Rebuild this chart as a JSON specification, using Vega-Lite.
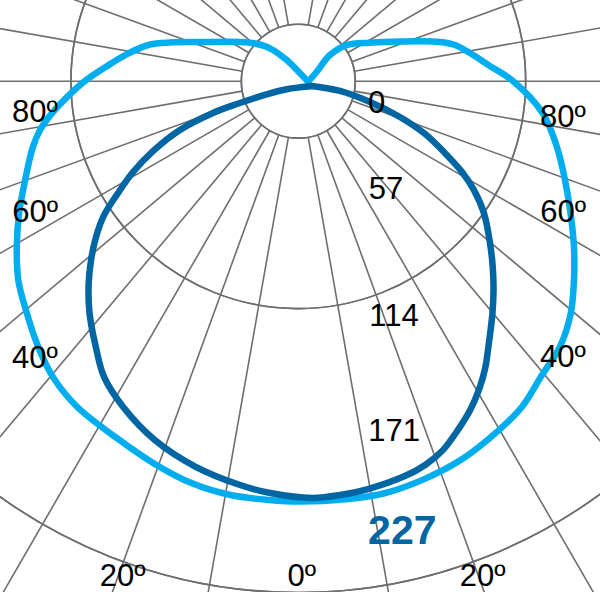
{
  "$schema": "https://vega.github.io/schema/vega-lite/v6.json",
  "width": 600,
  "height": 592,
  "padding": 0,
  "autosize": {"type": "none"},
  "background": "white",
  "datasets": {
    "rings": [
      {"value": 0}, {"value": 57}, {"value": 114}, {"value": 171}, {"value": 228}
    ],
    "spokes": [
      {"a": 10}, {"a": 20}, {"a": 30}, {"a": 40}, {"a": 50}, {"a": 60}, {"a": 70}, {"a": 80}, {"a": 90},
      {"a": 100}, {"a": 110}, {"a": 120}, {"a": 130}, {"a": 140}, {"a": 150}, {"a": 160}, {"a": 170},
      {"a": -10}, {"a": -20}, {"a": -30}, {"a": -40}, {"a": -50}, {"a": -60}, {"a": -70}, {"a": -80}, {"a": -90},
      {"a": -100}, {"a": -110}, {"a": -120}, {"a": -130}, {"a": -140}, {"a": -150}, {"a": -160}, {"a": -170}
    ],
    "light": [
      {"i": 1, "a": 87.1, "r": 5.0}, {"i": 2, "a": 167.9, "r": 4.1}, {"i": 3, "a": -151.3, "r": 12.1},
      {"i": 4, "a": -139.3, "r": 21.8}, {"i": 5, "a": -131.1, "r": 28.8}, {"i": 6, "a": -123.9, "r": 35.3},
      {"i": 7, "a": -111.7, "r": 53.1}, {"i": 8, "a": -106.8, "r": 67.3}, {"i": 9, "a": -103.9, "r": 76.7},
      {"i": 10, "a": -99.0, "r": 87.1}, {"i": 11, "a": -94.5, "r": 96.4}, {"i": 12, "a": -90.3, "r": 106.6},
      {"i": 13, "a": -86.3, "r": 115.9}, {"i": 14, "a": -82.6, "r": 124.7}, {"i": 15, "a": -79.3, "r": 132.0},
      {"i": 16, "a": -76.1, "r": 137.3}, {"i": 17, "a": -70.1, "r": 145.9}, {"i": 18, "a": -64.7, "r": 155.1},
      {"i": 19, "a": -59.5, "r": 164.1}, {"i": 20, "a": -54.6, "r": 172.5}, {"i": 21, "a": -49.5, "r": 179.3},
      {"i": 22, "a": -44.4, "r": 186.7}, {"i": 23, "a": -39.7, "r": 193.0}, {"i": 24, "a": -34.2, "r": 197.7},
      {"i": 25, "a": -27.3, "r": 200.9}, {"i": 26, "a": -20.7, "r": 205.2}, {"i": 27, "a": -14.8, "r": 208.9},
      {"i": 28, "a": -9.3, "r": 210.6}, {"i": 29, "a": -4.0, "r": 210.8}, {"i": 30, "a": 0.2, "r": 211.1},
      {"i": 31, "a": 6.4, "r": 211.3}, {"i": 32, "a": 11.8, "r": 211.4}, {"i": 33, "a": 17.3, "r": 209.7},
      {"i": 34, "a": 23.2, "r": 207.0}, {"i": 35, "a": 29.9, "r": 202.1}, {"i": 36, "a": 34.5, "r": 198.4},
      {"i": 37, "a": 39.5, "r": 191.9}, {"i": 38, "a": 44.6, "r": 187.2}, {"i": 39, "a": 49.6, "r": 179.7},
      {"i": 40, "a": 54.2, "r": 170.7}, {"i": 41, "a": 59.0, "r": 161.5}, {"i": 42, "a": 64.1, "r": 152.0},
      {"i": 43, "a": 69.7, "r": 142.8}, {"i": 44, "a": 75.8, "r": 133.9}, {"i": 45, "a": 82.5, "r": 123.9},
      {"i": 46, "a": 90.3, "r": 107.2}, {"i": 47, "a": 94.5, "r": 96.6}, {"i": 48, "a": 99.3, "r": 87.4},
      {"i": 49, "a": 103.0, "r": 80.8}, {"i": 50, "a": 105.5, "r": 73.8}, {"i": 51, "a": 111.3, "r": 54.8},
      {"i": 52, "a": 118.2, "r": 40.9}, {"i": 53, "a": 126.8, "r": 30.3}, {"i": 54, "a": 129.6, "r": 20.6},
      {"i": 55, "a": 117.3, "r": 10.4}, {"i": 56, "a": 87.1, "r": 5.0}
    ],
    "dark": [
      {"i": 1, "a": 70.7, "r": 7.3}, {"i": 2, "a": 15.6, "r": 3.2}, {"i": 3, "a": -55.1, "r": 7.1},
      {"i": 4, "a": -67.5, "r": 17.2}, {"i": 5, "a": -69.5, "r": 31.3}, {"i": 6, "a": -69.6, "r": 45.7},
      {"i": 7, "a": -67.6, "r": 64.3}, {"i": 8, "a": -64.3, "r": 81.0}, {"i": 9, "a": -61.2, "r": 94.7},
      {"i": 10, "a": -58.2, "r": 106.5}, {"i": 11, "a": -55.4, "r": 118.5}, {"i": 12, "a": -52.4, "r": 128.2},
      {"i": 13, "a": -49.2, "r": 137.5}, {"i": 14, "a": -45.8, "r": 146.9}, {"i": 15, "a": -42.0, "r": 156.7},
      {"i": 16, "a": -37.3, "r": 167.8}, {"i": 17, "a": -33.3, "r": 177.7}, {"i": 18, "a": -28.3, "r": 185.7},
      {"i": 19, "a": -21.8, "r": 194.1}, {"i": 20, "a": -14.9, "r": 200.4}, {"i": 21, "a": -8.2, "r": 204.9},
      {"i": 22, "a": -3.9, "r": 207.3}, {"i": 23, "a": 1.9, "r": 209.4}, {"i": 24, "a": 5.8, "r": 208.9},
      {"i": 25, "a": 9.7, "r": 207.8}, {"i": 26, "a": 15.1, "r": 205.4}, {"i": 27, "a": 18.3, "r": 203.0},
      {"i": 28, "a": 21.4, "r": 199.0}, {"i": 29, "a": 24.6, "r": 192.6}, {"i": 30, "a": 27.6, "r": 186.3},
      {"i": 31, "a": 30.3, "r": 179.7}, {"i": 32, "a": 33.1, "r": 171.9}, {"i": 33, "a": 35.6, "r": 164.0},
      {"i": 34, "a": 39.9, "r": 152.0}, {"i": 35, "a": 43.1, "r": 143.5}, {"i": 36, "a": 46.6, "r": 134.3},
      {"i": 37, "a": 50.3, "r": 124.8}, {"i": 38, "a": 54.6, "r": 114.4}, {"i": 39, "a": 58.2, "r": 103.8},
      {"i": 40, "a": 61.0, "r": 94.0}, {"i": 41, "a": 63.9, "r": 82.0}, {"i": 42, "a": 67.4, "r": 69.0},
      {"i": 43, "a": 70.6, "r": 54.1}, {"i": 44, "a": 73.8, "r": 37.5}, {"i": 45, "a": 76.8, "r": 21.5},
      {"i": 46, "a": 70.7, "r": 7.3}
    ],
    "labels": [
      {"t": "80º", "a": -83.2, "r": 133.2}, {"t": "60º", "a": -63.4, "r": 147.8},
      {"t": "40º", "a": -43.5, "r": 192.2}, {"t": "20º", "a": -19.5, "r": 264.2},
      {"t": "0º", "a": 0.4, "r": 249.0}, {"t": "20º", "a": 20.4, "r": 265.7},
      {"t": "40º", "a": 43.7, "r": 192.3}, {"t": "60º", "a": 63.6, "r": 148.5},
      {"t": "80º", "a": 82.1, "r": 134.2},
      {"t": "0", "a": 73.8, "r": 41.0}, {"t": "57", "a": 38.9, "r": 70.2},
      {"t": "114", "a": 22.1, "r": 127.7}, {"t": "171", "a": 15.3, "r": 182.5}
    ],
    "maxlabel": [
      {"t": "227", "a": 13.0, "r": 232.2}
    ]
  },
  "layer": [
    {
      "data": {"name": "rings"},
      "transform": [{"calculate": "(datum.value + 28.6) * 1.9912", "as": "rr"}],
      "mark": {"type": "arc", "filled": false, "stroke": "#6e6e6e", "strokeWidth": 1.6, "theta": 0, "theta2": 6.2832},
      "encoding": {
        "x": {"datum": 0, "type": "quantitative", "scale": {"domain": [-149.81, 151.52], "nice": false, "zero": false}},
        "y": {"datum": 0, "type": "quantitative", "scale": {"domain": [-256.53, 40.78], "nice": false, "zero": false}},
        "radius": {"field": "rr", "type": "quantitative", "scale": null}
      }
    },
    {
      "data": {"name": "spokes"},
      "transform": [
        {"calculate": "28.6 * sin(datum.a * PI / 180)", "as": "x1"},
        {"calculate": "-28.6 * cos(datum.a * PI / 180)", "as": "y1"},
        {"calculate": "400 * sin(datum.a * PI / 180)", "as": "x2"},
        {"calculate": "-400 * cos(datum.a * PI / 180)", "as": "y2"}
      ],
      "mark": {"type": "rule", "stroke": "#6e6e6e", "strokeWidth": 1.6},
      "encoding": {
        "x": {"field": "x1", "type": "quantitative"},
        "y": {"field": "y1", "type": "quantitative"},
        "x2": {"field": "x2"},
        "y2": {"field": "y2"}
      }
    },
    {
      "mark": {"type": "rule", "stroke": "#6e6e6e", "strokeWidth": 1.6},
      "encoding": {"x": {"datum": 0, "type": "quantitative"}}
    },
    {
      "data": {"name": "light"},
      "transform": [
        {"calculate": "datum.r * sin(datum.a * PI / 180)", "as": "x"},
        {"calculate": "-datum.r * cos(datum.a * PI / 180)", "as": "y"}
      ],
      "mark": {"type": "line", "interpolate": "catmull-rom", "stroke": "#00AEEF", "strokeWidth": 6.5, "strokeJoin": "round", "strokeCap": "round"},
      "encoding": {
        "x": {"field": "x", "type": "quantitative"},
        "y": {"field": "y", "type": "quantitative"},
        "order": {"field": "i"}
      }
    },
    {
      "data": {"name": "dark"},
      "transform": [
        {"calculate": "datum.r * sin(datum.a * PI / 180)", "as": "x"},
        {"calculate": "-datum.r * cos(datum.a * PI / 180)", "as": "y"}
      ],
      "mark": {"type": "line", "interpolate": "catmull-rom", "stroke": "#0065A3", "strokeWidth": 6.5, "strokeJoin": "round", "strokeCap": "round"},
      "encoding": {
        "x": {"field": "x", "type": "quantitative"},
        "y": {"field": "y", "type": "quantitative"},
        "order": {"field": "i"}
      }
    },
    {
      "data": {"name": "labels"},
      "transform": [
        {"calculate": "datum.r * sin(datum.a * PI / 180)", "as": "x"},
        {"calculate": "-datum.r * cos(datum.a * PI / 180)", "as": "y"}
      ],
      "mark": {"type": "text", "font": "Liberation Sans", "fontSize": 31, "color": "black", "align": "center", "baseline": "middle"},
      "encoding": {
        "x": {"field": "x", "type": "quantitative"},
        "y": {"field": "y", "type": "quantitative"},
        "text": {"field": "t"}
      }
    },
    {
      "data": {"name": "maxlabel"},
      "transform": [
        {"calculate": "datum.r * sin(datum.a * PI / 180)", "as": "x"},
        {"calculate": "-datum.r * cos(datum.a * PI / 180)", "as": "y"}
      ],
      "mark": {"type": "text", "font": "Liberation Sans", "fontSize": 41, "fontWeight": "bold", "color": "#0065A3", "align": "center", "baseline": "middle"},
      "encoding": {
        "x": {"field": "x", "type": "quantitative"},
        "y": {"field": "y", "type": "quantitative"},
        "text": {"field": "t"}
      }
    }
  ],
  "config": {
    "view": {"stroke": null},
    "axis": {"disable": true}
  }
}
